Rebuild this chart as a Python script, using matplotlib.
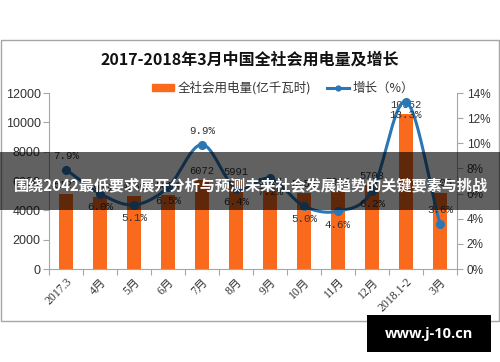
import numpy as np
import matplotlib
matplotlib.use("Agg")
import matplotlib.pyplot as plt
from matplotlib.patches import Rectangle
from matplotlib.lines import Line2D

plt.rcParams['font.family'] = ['Noto Sans CJK SC', 'DejaVu Sans']

categories = ["2017.3", "4月", "5月", "6月", "7月", "8月", "9月", "10月", "11月", "12月", "2018.1-2", "3月"]
consumption = [5127, 4913, 4969, 5054, 6072, 5991, 5317, 5156, 5310, 5708, 10552, 5205]
growth = [7.9, 6.0, 5.1, 6.5, 9.9, 6.4, 7.2, 5.0, 4.6, 6.2, 13.3, 3.6]
growth_label_side = ["above", "below", "below", "below", "above", "below", "below", "below", "below", "below", "below", "above"]

title = "2017-2018年3月中国全社会用电量及增长"
bar_name = "全社会用电量(亿千瓦时)"
line_name = "增长（%）"
banner = "围绕2042最低要求展开分析与预测未来社会发展趋势的关键要素与挑战"
stamp = "www.j-10.cn"

W, H = 500, 362
fig = plt.figure(figsize=(W / 100, H / 100), dpi=100)
fig.patch.set_facecolor("white")

# outer chart frame
fig.add_artist(Rectangle((1 / W, 1 - 321 / H), 498 / W, (321 - 40) / H,
                         transform=fig.transFigure, fill=False, edgecolor="#a6a6a6", lw=1.0))

ax = fig.add_axes([49 / W, 1 - 269 / H, (457 - 49) / W, (269 - 93) / H])
ax2 = ax.twinx()

bar_color = "#fa6a1c"
line_color = "#2b77b5"
x = np.arange(len(categories))

ax.bar(x, consumption, width=0.41, color=bar_color, zorder=2)
ax.set_xlim(-0.5, len(categories) - 0.5)
ax.set_ylim(0, 12000)
ax.set_yticks(np.arange(0, 12001, 2000))
ax.set_yticklabels([str(v) for v in range(0, 12001, 2000)], family="Liberation Sans", fontsize=9, color="#333333")
ax.set_xticks(np.arange(-0.5, len(categories), 1.0))
ax.set_xticklabels([])
ax.set_xticks(x, minor=True)
ax.set_xticklabels(categories, minor=True, rotation=45, ha="right", va="top",
                   fontsize=8.5, color="#333333", family=["Liberation Serif", "Noto Sans CJK SC"],
                   rotation_mode="anchor")
ax.tick_params(axis="x", which="minor", length=0, pad=5)
ax.tick_params(axis="x", which="major", length=4, color="#a6a6a6", direction="out")
ax.tick_params(axis="y", length=4, color="#a6a6a6", direction="out", pad=2)
for s in ["top", "right"]:
    ax.spines[s].set_visible(False)
for s in ["left", "bottom"]:
    ax.spines[s].set_color("#a6a6a6")

for xi, v in zip(x, consumption):
    ax.annotate(str(v), (xi, v), xytext=(0, 3), textcoords="offset points",
                ha="center", va="bottom", fontsize=7.5, family="Liberation Mono", color="#333333", zorder=3)

# smoothed growth line (Catmull-Rom through the data points)
def smooth(xs, ys, n=20):
    xs = np.asarray(xs, float); ys = np.asarray(ys, float)
    px = np.concatenate([[2 * xs[0] - xs[1]], xs, [2 * xs[-1] - xs[-2]]])
    py = np.concatenate([[2 * ys[0] - ys[1]], ys, [2 * ys[-1] - ys[-2]]])
    ox, oy = [], []
    for i in range(1, len(px) - 2):
        t = np.linspace(0, 1, n, endpoint=False)
        for arr, out in ((px, ox), (py, oy)):
            p0, p1, p2, p3 = arr[i - 1], arr[i], arr[i + 1], arr[i + 2]
            out.extend(0.5 * ((2 * p1) + (-p0 + p2) * t + (2 * p0 - 5 * p1 + 4 * p2 - p3) * t ** 2
                              + (-p0 + 3 * p1 - 3 * p2 + p3) * t ** 3))
    ox.append(xs[-1]); oy.append(ys[-1])
    return np.array(ox), np.array(oy)

sx, sy = smooth(x, growth)
ax2.plot(sx, sy, color=line_color, lw=2.2, zorder=4, solid_capstyle="round")
ax2.plot(x, growth, "o", color=line_color, ms=5.5, zorder=5)
ax2.set_ylim(0, 14)
ax2.set_yticks(np.arange(0, 15, 2))
ax2.set_yticklabels([f"{v}%" for v in range(0, 15, 2)], family="Liberation Sans", fontsize=8.5, color="#333333")
ax2.tick_params(axis="y", length=4, color="#a6a6a6", direction="out", pad=3)
for s in ["top", "left", "bottom"]:
    ax2.spines[s].set_visible(False)
ax2.spines["right"].set_color("#a6a6a6")

for xi, g, side in zip(x, growth, growth_label_side):
    dy = 6 if side == "above" else -6
    ax2.annotate(f"{g}%", (xi, g), xytext=(0, dy), textcoords="offset points",
                 ha="center", va="bottom" if side == "above" else "top",
                 fontsize=7.8, family="Liberation Mono", color="#333333", zorder=6)

# title and legend
fig.text(0.5, 1 - 60 / H, title, ha="center", va="center", fontsize=11.5, fontweight="bold", color="#111111")
handles = [Rectangle((0, 0), 1, 1, color=bar_color),
           Line2D([0], [0], color=line_color, lw=2.2, marker="o", ms=3.5)]
fig.legend(handles, [bar_name, line_name], loc="center", bbox_to_anchor=(283 / W, 1 - 88 / H),
           ncol=2, frameon=False, fontsize=9, handlelength=1.8, handleheight=0.45,
           columnspacing=1.2, handletextpad=0.3, labelcolor="#333333")

# overlay banner
fig.add_artist(Rectangle((0, 1 - 210 / H), 1, 58 / H, transform=fig.transFigure,
                         facecolor="#000000", alpha=0.62, edgecolor="none", zorder=20))
fig.text(14 / W, 1 - 186 / H, banner, ha="left", va="center", fontsize=10.9, fontweight="bold",
         color="white", zorder=21)

# stamp box
fig.add_artist(Rectangle((367 / W, 1 - 352 / H), 124 / W, 37 / H, transform=fig.transFigure,
                         facecolor="#000000", edgecolor="none", zorder=20))
fig.text(429 / W, 1 - 334 / H, stamp, ha="center", va="center", fontsize=10.5, fontweight="bold",
         color="white", zorder=21, family="Open Sans")

fig.savefig("out.png", dpi=100)
